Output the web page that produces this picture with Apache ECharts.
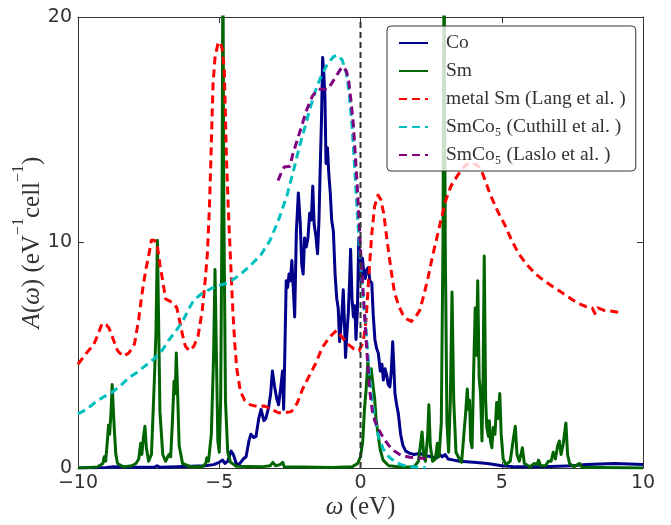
<!DOCTYPE html>
<html>
<head>
<meta charset="utf-8">
<script src="https://cdn.jsdelivr.net/npm/echarts@6/dist/echarts.min.js"></script>
<style>
  html, body { margin: 0; padding: 0; background: #fff; }
  #chart { width: 671px; height: 525px; }
</style>
</head>
<body>
<div id="chart"></div>
<script>
// ---- Data (x = ω in eV, y = A(ω)) ----
const xTicks = [-10, -5, 0, 5, 10];
const yTicks = [0, 10, 20];

const seriesNames = ['Co', 'Sm', 'metal Sm (Lang et al. )', 'SmCo\u2085 (Cuthill et al. )', 'SmCo\u2085 (Laslo et al. )'];

const coData = [[-10,0],[-9,0.02],[-8.8,0.05],[-8,0.03],[-7.3,0.03],[-7.2,0.1],[-7.1,0.03],[-6.5,0.05],[-6,0.08],[-5.5,0.1],[-5.2,0.15],[-5.0,0.25],[-4.88,0.35],[-4.8,0.2],[-4.7,0.3],[-4.58,0.75],[-4.5,0.6],[-4.4,0.2],[-4.3,0.15],[-4.15,0.4],[-4.05,0.5],[-3.95,1.2],[-3.88,1.5],[-3.78,1.35],[-3.7,1.4],[-3.6,2.2],[-3.52,2.6],[-3.42,2.1],[-3.35,2.2],[-3.25,2.7],[-3.18,3.3],[-3.12,4.3],[-3.04,3.6],[-2.97,3.1],[-2.9,2.8],[-2.82,3.6],[-2.76,4.3],[-2.72,2.6],[-2.68,5],[-2.63,8.3],[-2.58,8.0],[-2.53,8.6],[-2.48,8.3],[-2.43,9.2],[-2.38,8],[-2.33,6.7],[-2.27,10.5],[-2.2,12.2],[-2.13,10.8],[-2.08,9],[-2.03,8.6],[-1.98,10.2],[-1.92,9.8],[-1.86,10.2],[-1.8,11.3],[-1.74,11.0],[-1.69,12.5],[-1.64,10.8],[-1.58,10.3],[-1.52,9.5],[-1.47,11],[-1.43,13.1],[-1.38,15.5],[-1.34,18.2],[-1.3,17.5],[-1.26,16.5],[-1.22,13.5],[-1.17,14.2],[-1.12,13],[-1.07,12.2],[-1.02,11],[-0.96,10.5],[-0.9,8.6],[-0.84,7.5],[-0.79,7.1],[-0.74,5.6],[-0.7,6.2],[-0.65,7.0],[-0.61,7.9],[-0.57,6.5],[-0.53,4.9],[-0.48,6.0],[-0.43,6.9],[-0.38,8.5],[-0.35,9.7],[-0.3,7.5],[-0.25,6.7],[-0.2,7.2],[-0.16,5.7],[-0.11,7.0],[-0.06,10.2],[-0.02,9.0],[0.02,8.3],[0.07,9.3],[0.12,8.6],[0.17,8.4],[0.22,8.8],[0.28,8.9],[0.33,8.3],[0.4,8.2],[0.45,6.8],[0.51,5.7],[0.57,5.3],[0.63,5.1],[0.7,4.3],[0.76,4.6],[0.81,3.9],[0.87,4.4],[0.93,4.1],[0.98,3.7],[1.04,3.6],[1.09,4.3],[1.14,5.6],[1.18,4.5],[1.22,3.3],[1.28,2.8],[1.34,2.4],[1.42,1.5],[1.5,1.0],[1.6,0.75],[1.75,0.65],[1.9,0.6],[2.1,0.65],[2.3,0.55],[2.5,0.5],[2.7,0.45],[2.8,0.6],[2.9,0.5],[3.0,0.6],[3.1,0.4],[3.3,0.35],[3.5,0.3],[4.0,0.25],[4.5,0.2],[5.0,0.1],[5.5,0.05],[6.5,0.05],[7.5,0.1],[8.0,0.15],[9,0.2],[10,0.15]];

const smData = [[-10,0],[-9.6,0.02],[-9.3,0.05],[-9.12,0.2],[-9.07,0.5],[-9.02,0.3],[-8.96,1.2],[-8.92,1.9],[-8.88,1.5],[-8.83,2.5],[-8.79,3.7],[-8.75,2.6],[-8.71,1.6],[-8.66,0.6],[-8.6,0.2],[-8.4,0.05],[-8.1,0.1],[-7.95,0.2],[-7.85,0.4],[-7.78,1.1],[-7.74,0.6],[-7.68,1.4],[-7.63,1.85],[-7.58,0.9],[-7.5,0.3],[-7.4,0.6],[-7.3,3.8],[-7.24,6],[-7.19,10.1],[-7.14,6],[-7.1,2.5],[-7.0,0.6],[-6.9,0.3],[-6.78,0.6],[-6.72,0.5],[-6.66,2],[-6.6,3.85],[-6.56,3.3],[-6.52,5.1],[-6.47,3.2],[-6.42,1],[-6.3,0.2],[-6.0,0.05],[-5.6,0.05],[-5.48,0.2],[-5.44,0.45],[-5.38,0.3],[-5.28,1.5],[-5.2,5],[-5.15,8.8],[-5.1,5],[-5.05,1.2],[-5.0,0.7],[-4.95,3],[-4.9,12],[-4.87,23],[-4.84,12],[-4.78,3],[-4.7,0.7],[-4.6,0.25],[-4.4,0.08],[-3.5,0.05],[-3.2,0.1],[-3.1,0.25],[-3.0,0.1],[-2.85,0.15],[-2.75,0.25],[-2.7,0.05],[-1,0.02],[-0.3,0.05],[-0.1,0.2],[0,0.5],[0.08,1.2],[0.14,2.6],[0.2,3.5],[0.26,4.7],[0.32,3.9],[0.38,4.4],[0.45,3.6],[0.5,3.1],[0.55,2.2],[0.62,1.5],[0.7,0.8],[0.8,0.35],[1.0,0.1],[1.5,0.03],[1.9,0.05],[2.05,0.3],[2.12,1.0],[2.18,1.6],[2.24,0.5],[2.3,0.3],[2.38,1.5],[2.42,2.8],[2.47,1.0],[2.55,0.3],[2.65,0.4],[2.72,1.1],[2.78,0.5],[2.86,2],[2.92,10],[2.96,23],[3.0,10],[3.06,2],[3.12,0.7],[3.18,3],[3.24,7.8],[3.3,3],[3.38,0.7],[3.5,0.4],[3.58,0.25],[3.66,1.5],[3.72,2.4],[3.78,3.5],[3.82,2.6],[3.86,3.0],[3.9,1.2],[3.95,0.9],[4.0,4],[4.06,7.1],[4.1,5],[4.15,8.3],[4.2,4],[4.25,3.3],[4.3,1.2],[4.34,4],[4.38,9.4],[4.43,3],[4.47,1.8],[4.53,1.4],[4.56,2.1],[4.6,1.2],[4.65,0.9],[4.7,1.8],[4.76,1.5],[4.82,2.9],[4.87,2.2],[4.93,3.3],[4.98,1.5],[5.05,0.4],[5.15,0.15],[5.3,0.3],[5.4,1.2],[5.48,1.85],[5.54,0.6],[5.62,0.3],[5.68,0.6],[5.73,0.9],[5.8,0.2],[6.0,0.05],[6.15,0.2],[6.25,0.15],[6.3,0.35],[6.38,0.1],[6.55,0.1],[6.65,0.3],[6.75,0.3],[6.82,0.7],[6.9,0.4],[6.98,1.0],[7.04,1.2],[7.1,0.6],[7.18,1.1],[7.27,2.0],[7.33,0.6],[7.4,0.2],[7.55,0.05],[7.75,0.2],[7.85,0.03],[8.5,0.02],[10,0.0]];

const langData = [[-10,4.6],[-9.7,5.1],[-9.45,5.45],[-9.3,5.9],[-9.15,6.4],[-9.0,6.35],[-8.9,6.2],[-8.75,5.7],[-8.6,5.2],[-8.4,4.95],[-8.2,5.1],[-8.0,5.5],[-7.85,6.6],[-7.75,7.6],[-7.6,8.8],[-7.5,9.4],[-7.4,10.1],[-7.3,10.1],[-7.2,9.95],[-7.1,9.0],[-7.0,8.3],[-6.9,7.5],[-6.75,7.4],[-6.6,7.3],[-6.5,7.1],[-6.4,6.5],[-6.3,5.9],[-6.2,5.4],[-6.05,5.2],[-5.9,5.4],[-5.75,5.85],[-5.6,7.0],[-5.5,8.3],[-5.42,9.5],[-5.35,11.5],[-5.3,13.5],[-5.26,15.3],[-5.22,17.0],[-5.15,18.2],[-5.05,18.8],[-4.97,18.9],[-4.9,18.6],[-4.82,17.6],[-4.75,14],[-4.68,11.5],[-4.6,9.2],[-4.52,7.0],[-4.45,5.5],[-4.38,4.4],[-4.25,3.4],[-4.1,3.0],[-3.9,2.8],[-3.6,2.72],[-3.4,2.75],[-3.15,2.6],[-2.9,2.45],[-2.7,2.45],[-2.45,2.5],[-2.25,2.85],[-2.05,3.5],[-1.85,4.0],[-1.6,4.6],[-1.35,5.35],[-1.1,5.8],[-0.85,6.1],[-0.65,5.8],[-0.45,5.5],[-0.25,5.3],[-0.05,5.2],[0.1,5.6],[0.2,6.6],[0.3,8.6],[0.4,10.4],[0.5,11.6],[0.62,12.1],[0.72,11.9],[0.82,11.3],[0.95,10.0],[1.08,8.8],[1.2,7.8],[1.35,7.2],[1.5,6.8],[1.65,6.6],[1.8,6.5],[1.95,6.7],[2.1,7.0],[2.25,7.7],[2.4,8.5],[2.55,9.4],[2.7,10.2],[2.85,11.0],[3.0,11.8],[3.2,12.5],[3.45,13.0],[3.7,13.4],[3.9,13.55],[4.1,13.45],[4.25,13.3],[4.4,12.8],[4.6,12.1],[4.85,11.4],[5.1,10.8],[5.35,10.1],[5.6,9.5],[5.9,9.0],[6.2,8.6],[6.5,8.3],[6.8,8.05],[7.1,7.8],[7.4,7.55],[7.7,7.3],[8.0,7.15],[8.2,7.1],[8.3,6.85],[8.4,7.1],[8.6,7.0],[8.9,6.95],[9.15,6.9]];

const cuthillData = [[-10,2.4],[-9.7,2.6],[-9.4,2.9],[-9.1,3.15],[-8.8,3.35],[-8.5,3.65],[-8.2,4.0],[-7.9,4.25],[-7.6,4.55],[-7.3,4.85],[-7.0,5.25],[-6.8,5.65],[-6.55,6.05],[-6.3,6.5],[-6.1,7.0],[-5.9,7.45],[-5.6,7.75],[-5.3,7.95],[-5.0,8.1],[-4.7,8.2],[-4.4,8.45],[-4.1,8.75],[-3.8,9.1],[-3.5,9.5],[-3.2,10.1],[-2.9,11.0],[-2.6,12.1],[-2.35,13.3],[-2.15,14.3],[-1.95,15.2],[-1.75,16.1],[-1.55,16.9],[-1.35,17.5],[-1.15,17.95],[-0.95,18.25],[-0.8,18.3],[-0.65,18.1],[-0.5,17.5],[-0.4,16.6],[-0.3,15.2],[-0.2,13.2],[-0.1,11],[0,9.2],[0.1,7.5],[0.18,6.4],[0.25,5.2],[0.33,4.0],[0.42,2.9],[0.52,2.1],[0.65,1.35],[0.8,0.85],[1.0,0.5],[1.25,0.25],[1.5,0.12],[1.8,0.05],[2.1,0.03],[2.3,0.02]];

const lasloData = [[-2.92,12.75],[-2.8,13.1],[-2.7,13.35],[-2.5,13.38],[-2.4,13.9],[-2.25,14.5],[-2.1,15.1],[-1.9,15.9],[-1.7,16.5],[-1.5,16.8],[-1.3,16.8],[-1.15,16.8],[-1.0,17.1],[-0.85,17.4],[-0.7,17.7],[-0.6,17.8],[-0.5,17.6],[-0.42,17.2],[-0.33,16.2],[-0.25,15.2],[-0.18,13.8],[-0.12,12.6],[-0.05,11],[0.02,9.2],[0.1,7.7],[0.18,6.1],[0.25,4.7],[0.33,3.4],[0.42,2.5],[0.52,2.05],[0.65,1.7],[0.8,1.35],[1.0,1.0],[1.2,0.75],[1.45,0.55],[1.75,0.48],[2.0,0.45],[2.3,0.42]];

const fermiLine = [[0, 0], [0, 20]];

// ---- Chart ----
const chart = echarts.init(document.getElementById('chart'), null, { renderer: 'canvas' });
const sans = 'DejaVu Sans';
const serif = 'Liberation Serif, DejaVu Serif, serif';
const minus = v => String(v).replace('-', '\u2212');
const frame = { show: true, onZero: false, lineStyle: { color: '#333', width: 1 } };
const ticks = { show: true, inside: true, length: 6, lineStyle: { color: '#333' } };

function lineSeries(name, data, color, dashed) {
  return {
    name: name,
    type: 'line',
    data: data,
    showSymbol: false,
    symbol: 'none',
    clip: true,
    animation: false,
    lineStyle: { color: color, width: 3, type: dashed ? [8, 5] : 'solid', cap: 'butt', join: 'round' },
    itemStyle: { color: color }
  };
}

const nameRich = {
  i: { fontFamily: serif, fontStyle: 'italic', fontSize: 25, color: '#333' },
  sup: { fontFamily: serif, fontSize: 16, color: '#333', verticalAlign: 'top' }
};

const option = {
  backgroundColor: '#fff',
  animation: false,
  grid: { left: 78, right: 28, top: 17, bottom: 57, containLabel: false, outerBoundsMode: 'none' },
  xAxis: [{
    type: 'value', min: -10, max: 10, interval: 5,
    name: '{i|\u03C9} (eV)', nameLocation: 'middle', nameGap: 27, nameMoveOverlap: false,
    nameTextStyle: { fontFamily: serif, fontSize: 25, color: '#333', rich: nameRich },
    axisLine: frame, axisTick: ticks,
    axisLabel: { fontFamily: sans, fontSize: 19, color: '#333', margin: 6, formatter: v => minus(v) },
    splitLine: { show: false }
  }, {
    type: 'value', min: -10, max: 10, interval: 5, position: 'top',
    axisLine: frame, axisTick: ticks,
    axisLabel: { show: false }, splitLine: { show: false }
  }],
  yAxis: [{
    type: 'value', min: 0, max: 20, interval: 10,
    name: '{i|A}({i|\u03C9}) (eV{sup|\u22121}cell{sup|\u22121})', nameLocation: 'middle', nameGap: 24.5, nameRotate: 90,
    nameMoveOverlap: false,
    nameTextStyle: { fontFamily: serif, fontSize: 25, color: '#333', lineHeight: 43, rich: nameRich },
    axisLine: frame, axisTick: ticks,
    axisLabel: { fontFamily: sans, fontSize: 19, color: '#333', margin: 6 },
    splitLine: { show: false }
  }, {
    type: 'value', min: 0, max: 20, interval: 10, position: 'right',
    axisLine: frame, axisTick: ticks,
    axisLabel: { show: false }, splitLine: { show: false }
  }],
  legend: {
    orient: 'vertical', left: 387, top: 26,
    data: seriesNames,
    backgroundColor: 'rgba(255,255,255,0.8)',
    borderColor: '#333', borderWidth: 1, borderRadius: 4,
    padding: [7, 10, 6, 11],
    itemGap: 8,
    itemWidth: 29, itemHeight: 18,
    itemStyle: { opacity: 0, color: 'transparent', borderColor: 'transparent', borderWidth: 0 },
    textStyle: { fontFamily: serif, fontSize: 19.5, color: '#333', padding: [0, 0, 0, 13] },
    z: 10
  },
  series: [
    lineSeries(seriesNames[0], coData, '#00008b', false),
    lineSeries(seriesNames[1], smData, '#006400', false),
    lineSeries(seriesNames[2], langData, '#ff0000', true),
    lineSeries(seriesNames[3], cuthillData, '#00bfbf', true),
    lineSeries(seriesNames[4], lasloData, '#800080', true),
    {
      name: 'fermi', type: 'line', data: fermiLine, showSymbol: false, symbol: 'none',
      animation: false, silent: true,
      lineStyle: { color: '#333', width: 2, type: [6, 4] }
    }
  ]
};
chart.setOption(option);
</script>
</body>
</html>
